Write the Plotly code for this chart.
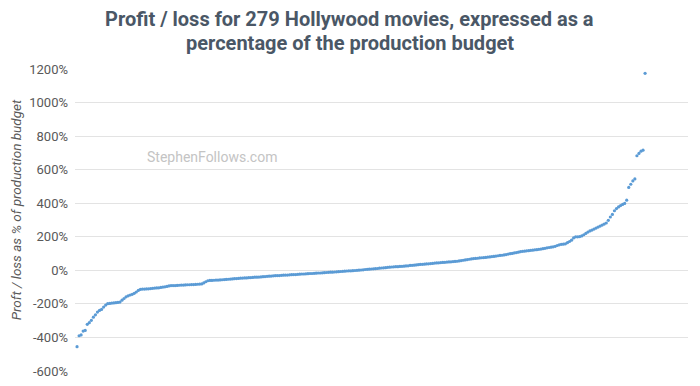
import plotly.graph_objects as go

title_lines = ["Profit / loss for 279 Hollywood movies, expressed as a",
               "percentage of the production budget"]
y_axis_title = "Proft / loss as % of production budget"
watermark = "StephenFollows.com"
y_ticks = [-600, -400, -200, 0, 200, 400, 600, 800, 1000, 1200]
y_tick_labels = [f"{v}%" for v in y_ticks]

# Profit/loss as % of budget, sorted ascending (movie rank 1..279)
profit_pct = [
    -455, -390, -385, -362, -358, -322, -312, -298, -279, -265,
    -249, -239, -233, -219, -207, -199, -197, -195, -194, -193,
    -191, -189, -178, -168, -158, -152, -147, -143, -137, -129,
    -120, -114, -112, -112, -111, -110, -109, -107, -106, -105,
    -104, -102, -100, -98, -96, -93, -91, -91, -91, -90,
    -89, -88, -88, -87, -86, -86, -85, -85, -84, -83,
    -82, -81, -75, -68, -62, -60, -60, -59, -58, -58,
    -57, -56, -55, -54, -53, -52, -51, -50, -49, -48,
    -47, -46, -45, -45, -44, -43, -42, -41, -41, -40,
    -39, -38, -37, -36, -35, -34, -33, -32, -31, -31,
    -30, -29, -28, -28, -27, -26, -25, -25, -24, -23,
    -22, -22, -21, -20, -19, -19, -18, -17, -16, -16,
    -15, -14, -13, -12, -11, -11, -10, -9, -8, -7,
    -6, -5, -4, -3, -3, -2, -1, 0, 1, 2,
    3, 5, 6, 7, 8, 9, 10, 11, 13, 14,
    15, 16, 18, 19, 20, 21, 22, 22, 23, 24,
    25, 26, 27, 29, 30, 31, 32, 34, 35, 36,
    37, 38, 39, 40, 41, 43, 44, 45, 46, 47,
    48, 49, 50, 51, 52, 53, 54, 56, 58, 60,
    62, 64, 66, 68, 70, 71, 72, 74, 75, 76,
    77, 79, 80, 82, 83, 85, 87, 89, 90, 92,
    94, 97, 99, 101, 104, 106, 108, 111, 113, 114,
    116, 117, 119, 120, 122, 123, 125, 127, 129, 131,
    134, 136, 138, 140, 143, 148, 152, 155, 156, 158,
    165, 172, 180, 193, 200, 200, 201, 205, 212, 220,
    228, 235, 240, 246, 252, 258, 264, 270, 276, 282,
    298, 318, 333, 355, 368, 378, 386, 393, 399, 418,
    494, 513, 533, 545, 683, 697, 710, 716, 1174,
]
movie_rank = list(range(1, len(profit_pct) + 1))

fig = go.Figure()
fig.add_trace(go.Scatter(
    x=movie_rank, y=profit_pct, mode="markers",
    marker=dict(color="#5b9bd5", size=3.2, line=dict(width=0)),
    hoverinfo="y", showlegend=False,
))

title_font = dict(family="Roboto, Arial, sans-serif", size=20,
                  color="#4a5766", weight="bold")
for line_text, ypos in zip(title_lines, [1.165, 1.086]):
    fig.add_annotation(
        x=0.448, y=ypos, xref="paper", yref="paper", text=line_text,
        showarrow=False, xanchor="center", yanchor="middle", font=title_font,
    )

# rotated y-axis title
fig.add_annotation(
    x=-0.095, y=0.535, xref="paper", yref="paper", text=y_axis_title,
    showarrow=False, textangle=-90, xanchor="center", yanchor="middle",
    font=dict(family="Roboto, Arial, sans-serif", size=13.5, color="#595959",
              style="italic"),
)

fig.add_annotation(
    x=67, y=675, xref="x", yref="y", text=watermark, showarrow=False,
    font=dict(family="Roboto, Arial, sans-serif", size=14, color="#c4c4c4"),
)

# page body has an 8px default margin, so the figure is sized to fit the window
fig.update_layout(
    width=692, height=378,
    margin=dict(l=67, r=12, t=61, b=15, autoexpand=False),
    paper_bgcolor="white", plot_bgcolor="white",
    xaxis=dict(range=[0, 300], showgrid=False, zeroline=False, showticklabels=False,
               showline=False, ticks="", automargin=False),
    yaxis=dict(
        range=[-600, 1200], tickvals=y_ticks, ticktext=y_tick_labels,
        showgrid=True, gridcolor="#e3e3e3", gridwidth=1, zeroline=False,
        showline=False, ticks="", ticklen=0, automargin=False,
        ticklabelstandoff=6,
        tickfont=dict(family="Roboto, Arial, sans-serif", size=13, color="#595959"),
    ),
)

fig.write_html("out.html")
